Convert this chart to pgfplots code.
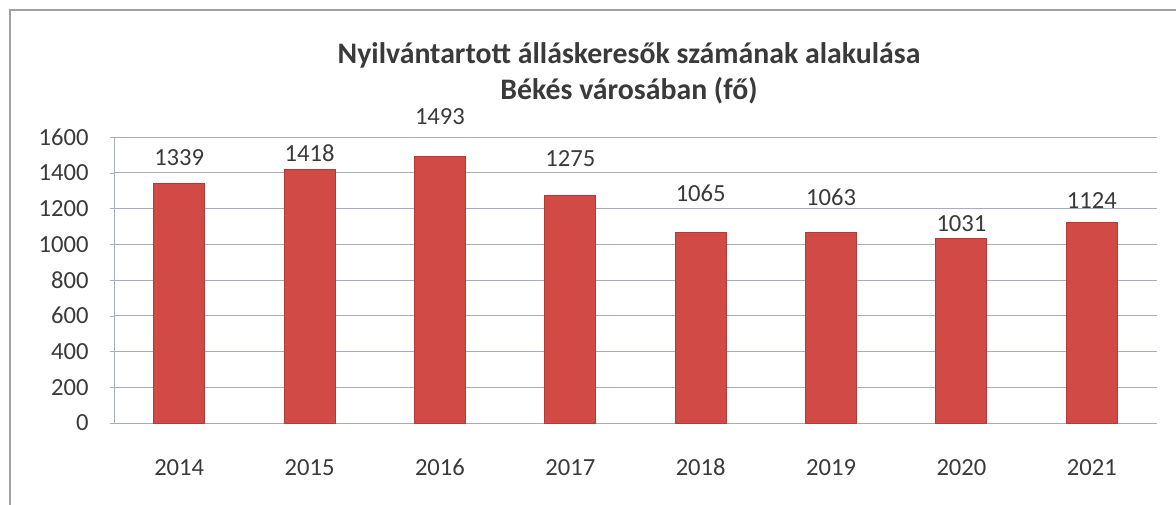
\documentclass[border=0pt]{standalone}
\usepackage{fontspec}
\setmainfont{Carlito}
\usepackage{pgfplots}
\pgfplotsset{compat=1.18}
\usepackage{pgfplotstable}

\definecolor{txt}{HTML}{3A3A3A}
\definecolor{barfill}{HTML}{D24A46}
\definecolor{baredge}{HTML}{B23A36}
\definecolor{gridc}{RGB}{165,172,188}
\definecolor{framec}{RGB}{160,160,160}

% x = category index, y = value, ly = where the value label sits
\pgfplotstableread{
x y ly
0 1339 1482
1 1418 1510
2 1493 1712
3 1275 1477
4 1065 1287
5 1063 1264
6 1031 1113
7 1124 1242
}\jobs

\begin{document}
\begin{tikzpicture}
  \useasboundingbox (-57pt,-40.5pt) rectangle (531pt,211.5pt);
  \draw[framec, line width=0.6pt] (-52pt,-45pt) -- (-52pt,206.5pt) -- (535pt,206.5pt);
  \begin{axis}[
    scale only axis,
    width=521.5pt, height=143pt,
    xmin=-0.5, xmax=7.5,
    ymin=0, ymax=1600,
    xtick={0,...,7},
    xticklabels={2014,2015,2016,2017,2018,2019,2020,2021},
    ytick={0,200,...,1600},
    axis x line*=bottom, axis y line*=left,
    axis line style={gridc, -},
    ymajorgrids,
    grid style={gridc, line width=0.5pt},
    xtick style={draw=none},
    ytick style={draw=gridc},
    major tick length=2pt, tick align=outside,
    /pgf/number format/1000 sep={},
    /pgf/number format/assume math mode=true,
    tick label style={font=\fontsize{12.3}{14}\selectfont, text=txt, inner sep=0pt},
    yticklabel style={anchor=east, xshift=-10.5pt},
    xticklabel style={anchor=center, yshift=-20.3pt},
    clip=false,
  ]
    \addplot[ybar, bar width=25.5pt, fill=barfill, draw=baredge, line width=0.5pt]
      table[x=x, y=y] {\jobs};
    \addplot[draw=none, mark=none, nodes near coords, point meta=explicit,
      every node near coord/.append style={anchor=center, inner sep=0pt,
        font=\fontsize{12.3}{14}\selectfont, text=txt}]
      table[x=x, y=ly, meta=y] {\jobs};
  \end{axis}
  \node[anchor=base, text=txt, font=\fontsize{14.9}{18}\selectfont\bfseries]
    at (257.5pt,179.5pt) {Nyilvántartott álláskeresők számának alakulása};
  \node[anchor=base, text=txt, font=\fontsize{14.9}{18}\selectfont\bfseries]
    at (257.5pt,161.5pt) {Békés városában (fő)};
\end{tikzpicture}
\end{document}
